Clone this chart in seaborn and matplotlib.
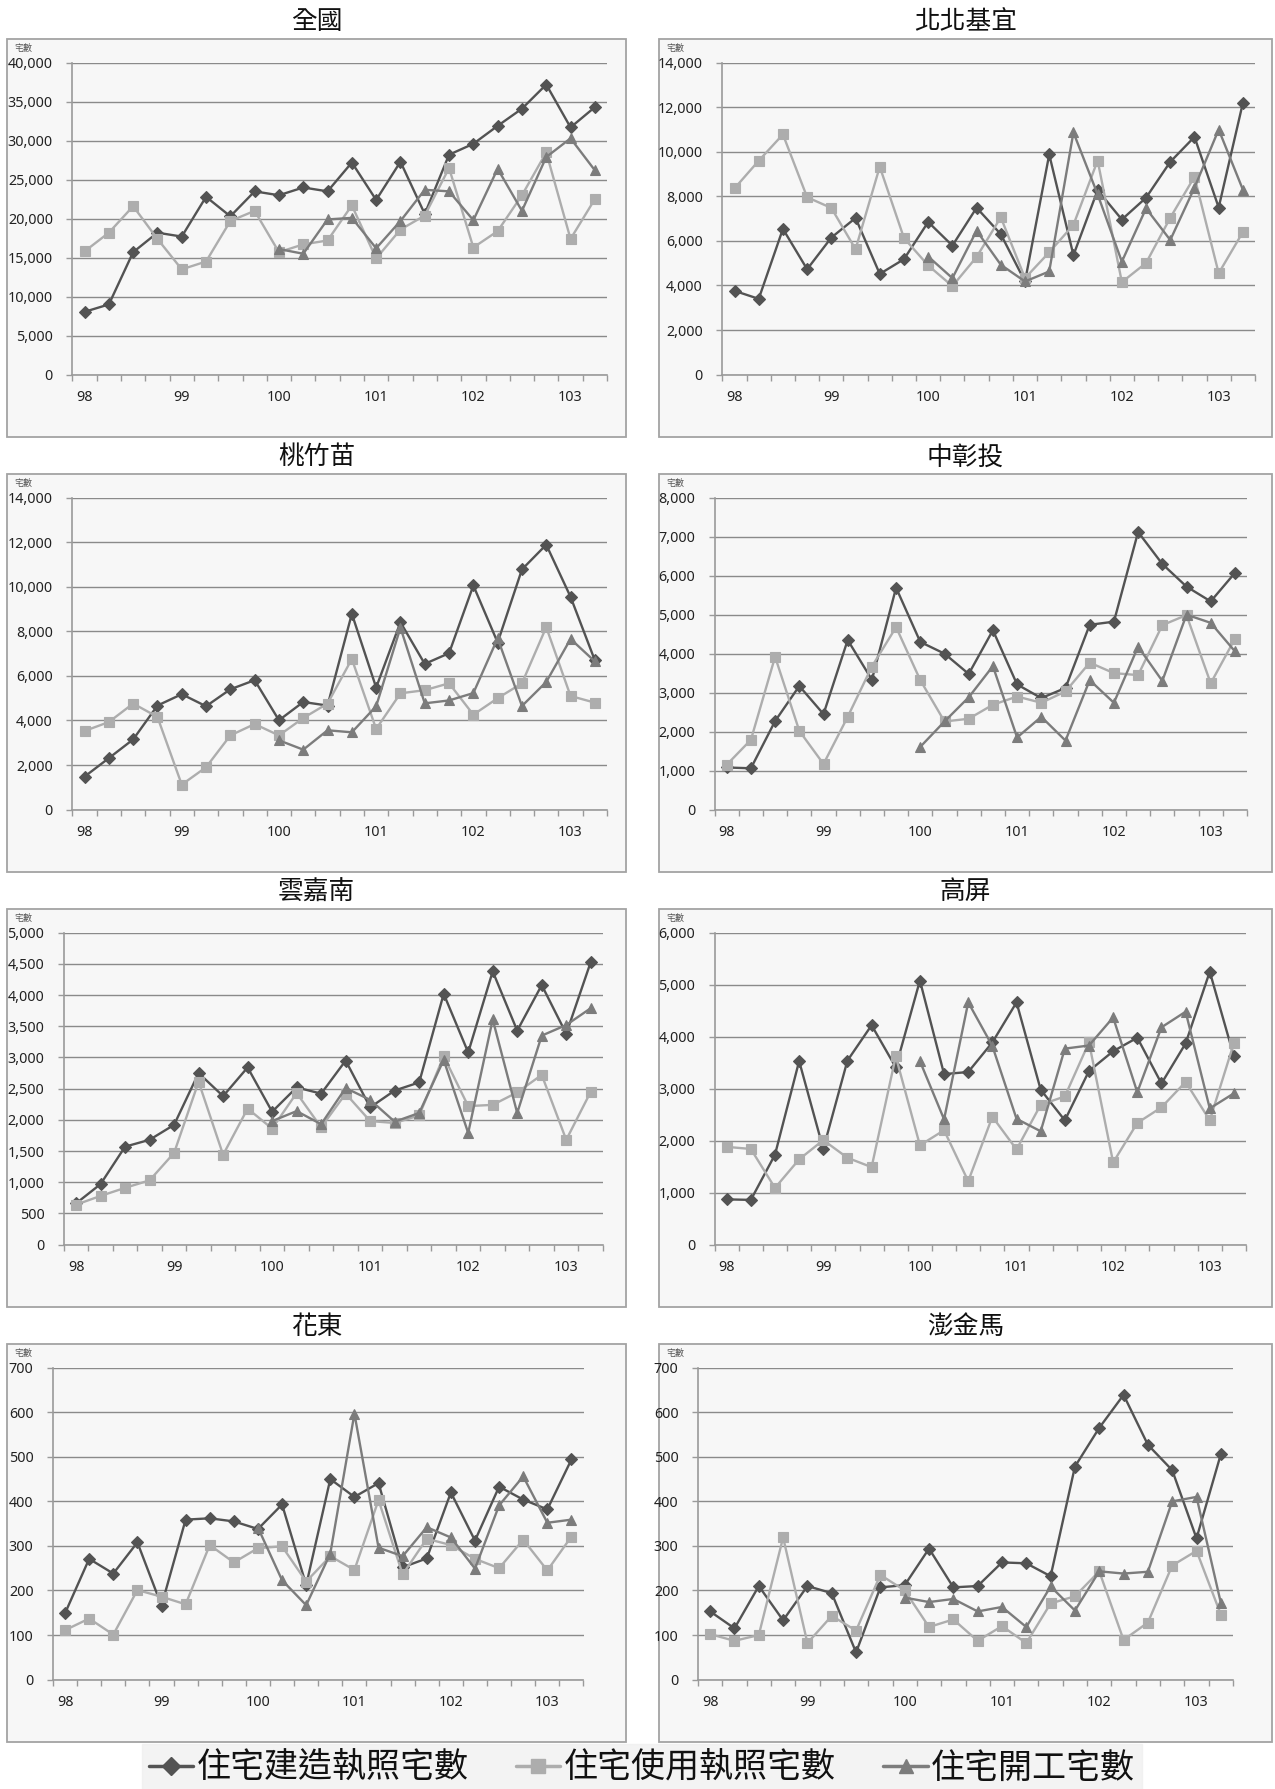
import numpy as np
import pandas as pd
import matplotlib
matplotlib.use("Agg")
import matplotlib.pyplot as plt
import seaborn as sns
from matplotlib.patches import Rectangle
from matplotlib.ticker import FuncFormatter, MultipleLocator, FixedLocator
from matplotlib.lines import Line2D

# ---------------- data ----------------
quarters = ["98Q1", "98Q2", "98Q3", "98Q4", "99Q1", "99Q2", "99Q3", "99Q4",
            "100Q1", "100Q2", "100Q3", "100Q4", "101Q1", "101Q2", "101Q3", "101Q4",
            "102Q1", "102Q2", "102Q3", "102Q4", "103Q1", "103Q2"]
year_labels = ["98", "99", "100", "101", "102", "103"]
series_names = ["住宅建造執照宅數", "住宅使用執照宅數", "住宅開工宅數"]
region_names = ["全國", "北北基宜", "桃竹苗", "中彰投", "雲嘉南", "高屏", "花東", "澎金馬"]
N = np.nan

nat_build = [8050, 9000, 15700, 18200, 17700, 22800, 20300, 23500, 23000, 24000, 23500,
             27200, 22400, 27300, 20600, 28200, 29600, 31900, 34100, 37200, 31700, 34300]
nat_use = [15800, 18200, 21600, 17400, 13500, 14500, 19700, 21000, 15700, 16700, 17200,
           21700, 14900, 18600, 20400, 26500, 16300, 18400, 23000, 28500, 17400, 22500]
nat_start = [N, N, N, N, N, N, N, N, 16100, 15500, 19900, 20100, 16200, 19700, 23700,
             23500, 19800, 26400, 21000, 27900, 30300, 26200]

tpk_build = [3760, 3400, 6540, 4730, 6150, 7030, 4520, 5180, 6850, 5790, 7490,
             6300, 4180, 9880, 5360, 8280, 6960, 7940, 9550, 10670, 7500, 12200]
tpk_use = [8360, 9600, 10780, 7960, 7480, 5630, 9330, 6130, 4900, 3970, 5280,
           7060, 4330, 5490, 6720, 9610, 4150, 5010, 7040, 8880, 4550, 6400]
tpk_start = [N, N, N, N, N, N, N, N, 5300, 4330, 6460, 4930, 4180, 4630, 10870,
             8090, 5070, 7460, 6040, 8390, 11000, 8300]

tzm_build = [1480, 2310, 3150, 4670, 5180, 4640, 5400, 5810, 4010, 4830, 4670,
             8790, 5480, 8410, 6540, 7020, 10060, 7500, 10780, 11890, 9550, 6700]
tzm_use = [3530, 3930, 4760, 4160, 1120, 1900, 3330, 3840, 3330, 4110, 4760,
           6760, 3620, 5220, 5360, 5670, 4260, 5000, 5670, 8190, 5100, 4800]
tzm_start = [N, N, N, N, N, N, N, N, 3110, 2690, 3560, 3470, 4640, 8170, 4770,
             4900, 5230, 7690, 4650, 5730, 7660, 6650]

zct_build = [1080, 1060, 2270, 3170, 2450, 4350, 3330, 5690, 4300, 4000, 3480,
             4600, 3210, 2860, 3120, 4740, 4820, 7120, 6300, 5720, 5340, 6070]
zct_use = [1150, 1790, 3920, 2020, 1170, 2380, 3670, 4680, 3320, 2260, 2330,
           2690, 2900, 2740, 3030, 3770, 3500, 3450, 4730, 4990, 3240, 4380]
zct_start = [N, N, N, N, N, N, N, N, 1610, 2260, 2880, 3680, 1850, 2380, 1770,
             3320, 2740, 4180, 3300, 5000, 4790, 4060]

yjn_build = [660, 970, 1570, 1680, 1920, 2750, 2380, 2840, 2130, 2520, 2420,
             2950, 2200, 2470, 2600, 4020, 3080, 4380, 3430, 4160, 3380, 4530]
yjn_use = [640, 780, 910, 1030, 1470, 2610, 1440, 2180, 1860, 2430, 1880,
           2420, 1980, 1950, 2070, 3020, 2220, 2240, 2440, 2720, 1680, 2450]
yjn_start = [N, N, N, N, N, N, N, N, 1980, 2140, 1930, 2510, 2320, 1970, 2110,
             2960, 1790, 3610, 2110, 3350, 3520, 3790]

gp_build = [870, 860, 1730, 3530, 1840, 3540, 4220, 3410, 5080, 3280, 3320,
            3890, 4660, 2980, 2390, 3340, 3720, 3980, 3100, 3870, 5250, 3620]
gp_use = [1880, 1840, 1090, 1640, 2010, 1670, 1490, 3620, 1910, 2200, 1220,
          2460, 1830, 2690, 2850, 3890, 1580, 2340, 2640, 3130, 2390, 3880]
gp_start = [N, N, N, N, N, N, N, N, 3530, 2410, 4660, 3820, 2420, 2180, 3770,
            3830, 4370, 2930, 4180, 4480, 2620, 2910]

hd_build = [149, 271, 238, 308, 166, 359, 362, 355, 338, 393, 212,
            450, 410, 441, 252, 272, 420, 312, 433, 404, 382, 494]
hd_use = [111, 137, 101, 201, 186, 169, 302, 263, 295, 299, 220,
          277, 246, 403, 236, 316, 302, 271, 250, 314, 245, 321]
hd_start = [N, N, N, N, N, N, N, N, 341, 223, 167, 283, 597, 296, 277,
            342, 319, 249, 391, 456, 352, 359]

pjm_build = [153, 115, 210, 133, 210, 194, 61, 207, 212, 294, 207,
             210, 263, 261, 232, 478, 565, 639, 527, 470, 317, 506]
pjm_use = [102, 87, 100, 319, 82, 143, 110, 235, 200, 118, 135,
           87, 120, 82, 171, 187, 243, 89, 128, 256, 289, 146]
pjm_start = [N, N, N, N, N, N, N, N, 184, 174, 181, 153, 163, 118, 209,
             155, 243, 238, 242, 400, 410, 172]

y_max = [40000, 14000, 14000, 8000, 5000, 6000, 700, 700]
y_step = [5000, 2000, 2000, 1000, 500, 1000, 100, 100]

panel_data = [
    (nat_build, nat_use, nat_start),
    (tpk_build, tpk_use, tpk_start),
    (tzm_build, tzm_use, tzm_start),
    (zct_build, zct_use, zct_start),
    (yjn_build, yjn_use, yjn_start),
    (gp_build, gp_use, gp_start),
    (hd_build, hd_use, hd_start),
    (pjm_build, pjm_use, pjm_start),
]

# ---------------- style ----------------
sns.set_theme(style="white")
CJK = ["Noto Sans CJK TC", "DejaVu Sans"]
NUM = ["Noto Sans", "DejaVu Sans"]
plt.rcParams["font.family"] = NUM

W, H = 1275, 1789
fig = plt.figure(figsize=(W / 100, H / 100), dpi=100)
fig.patch.set_facecolor("white")

colors = ["#535353", "#adadad", "#7c7c7c"]
markers = ["D", "s", "^"]
msizes = [5.8, 7.0, 7.5]

box_x = [(7, 626), (659, 1272)]
box_top0 = 39.3
row_pitch = 435.0
box_h = 398.0
plot_lr = [(72.4, 607), (722.4, 1255), (72.4, 607), (714.6, 1247),
           (63.8, 603), (714.6, 1246), (53, 583.5), (698, 1233)]


def fx(px):
    return px / W


def fy(py):
    return 1 - py / H


for i, name in enumerate(region_names):
    r, c = divmod(i, 2)
    bx0, bx1 = box_x[c]
    bt = box_top0 + r * row_pitch
    # chart box
    fig.patches.append(Rectangle((fx(bx0), fy(bt + box_h)), fx(bx1 - bx0), (box_h) / H,
                                 transform=fig.transFigure, facecolor="#f7f7f7",
                                 edgecolor="#a3a3a3", linewidth=1.3, zorder=-10))
    # title
    fig.text(fx((bx0 + bx1) / 2), fy(bt - 17), name, ha="center", va="center",
             fontsize=18.5, family=CJK, color="#111111")
    fig.text(fx(bx0 + 7), fy(bt + 9), "宅數", ha="left", va="center",
             fontsize=6.5, family=CJK, color="#555555")

    pl, pr = plot_lr[i]
    ptop = bt + 23.4
    pbot = bt + 335.3
    ax = fig.add_axes([fx(pl), fy(pbot), fx(pr - pl), (pbot - ptop) / H])
    ax.set_facecolor("none")
    ax.set_zorder(1)

    idx = np.arange(len(quarters))
    for s in range(3):
        vals = np.array(panel_data[i][s], dtype=float)
        ok = ~np.isnan(vals)
        sns.lineplot(x=idx[ok], y=vals[ok], ax=ax, color=colors[s], marker=markers[s],
                     markersize=msizes[s], markeredgecolor=colors[s], markeredgewidth=0.8,
                     linewidth=1.7, estimator=None, sort=False, zorder=3 + s)

    ax.set_xlim(-0.5, len(quarters) - 0.5)
    ax.set_ylim(0, y_max[i])
    ax.yaxis.set_major_locator(MultipleLocator(y_step[i]))
    ax.yaxis.set_major_formatter(FuncFormatter(lambda v, p: f"{int(round(v)):,}"))
    ax.grid(axis="y", color="#8a8a8a", linewidth=1.0, zorder=1)
    ax.grid(axis="x", visible=False)
    ax.set_axisbelow(True)
    ax.xaxis.set_major_locator(FixedLocator(list(range(0, len(quarters), 4))))
    ax.set_xticklabels(year_labels)
    ax.xaxis.set_minor_locator(FixedLocator(np.arange(-0.5, len(quarters), 1.0)))
    ax.tick_params(axis="x", which="major", length=0, pad=11, labelsize=10.3, labelcolor="#222222")
    ax.tick_params(axis="x", which="minor", length=4.5, width=1, color="#9a9a9a", direction="out")
    ax.tick_params(axis="y", which="major", length=4, width=1, color="#9a9a9a", pad=10,
                   labelsize=10.3, labelcolor="#222222", direction="out")
    ax.tick_params(axis="y", which="major", left=True)
    ax.tick_params(axis="x", which="minor", bottom=True)
    for sp in ["top", "right"]:
        ax.spines[sp].set_visible(False)
    for sp in ["left", "bottom"]:
        ax.spines[sp].set_visible(True)
        ax.spines[sp].set_color("#9a9a9a")
        ax.spines[sp].set_linewidth(1.2)
    ax.set_xlabel("")
    ax.set_ylabel("")

# legend
handles = [Line2D([0], [0], color=colors[s], marker=markers[s], markersize=msizes[s] + 3,
                  markeredgecolor=colors[s], linewidth=2.5) for s in range(3)]
leg = fig.legend(handles, series_names, loc="center", bbox_to_anchor=(fx(642), fy(1768)),
                 ncol=3, frameon=True, fancybox=False, facecolor="#f0f0f0", edgecolor="#f0f0f0",
                 prop={"family": CJK, "size": 24.5}, handlelength=1.3, handletextpad=0.1,
                 columnspacing=1.4, borderpad=0.2)
for t in leg.get_texts():
    t.set_color("#111111")

fig.savefig("out.png", dpi=100, facecolor="white")
